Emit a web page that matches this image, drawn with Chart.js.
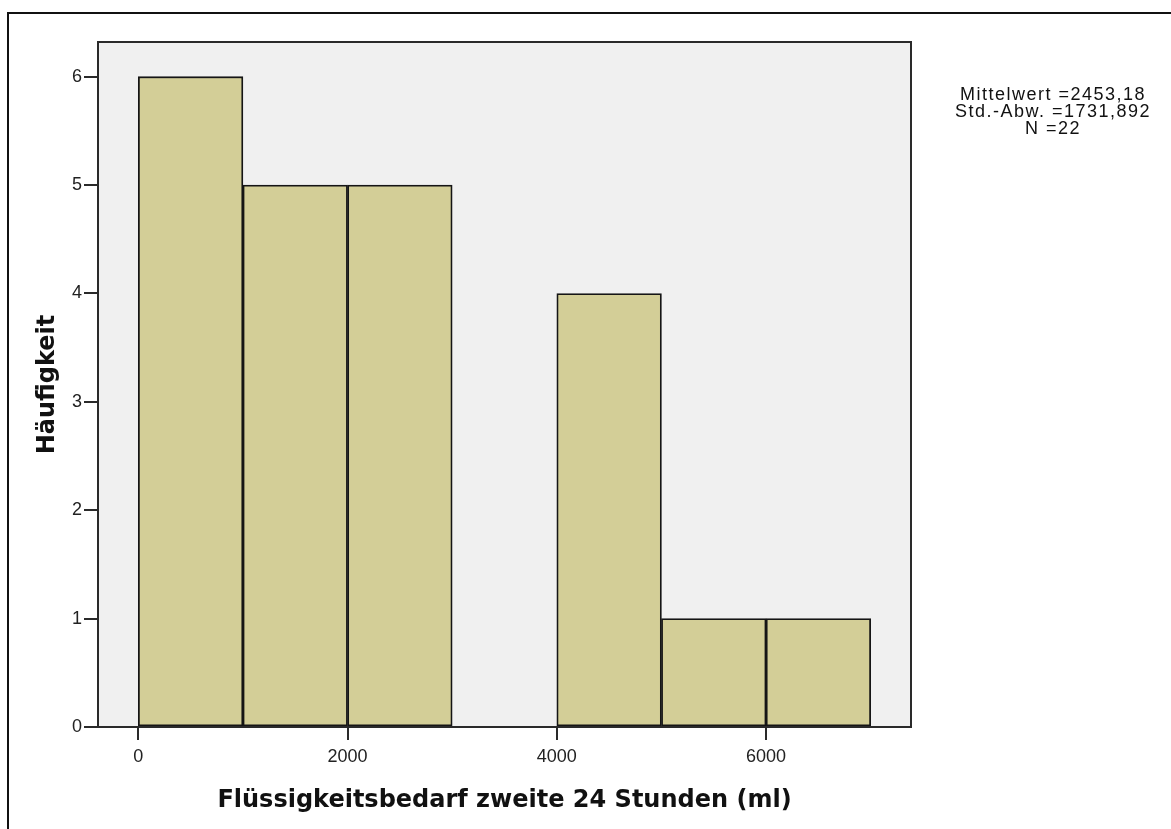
<!DOCTYPE html>
<html>
<head>
<meta charset="utf-8">
<script src="https://cdn.jsdelivr.net/npm/chart.js@4/dist/chart.umd.min.js"></script>
<style>
  html, body { margin: 0; padding: 0; background: #fff; overflow: hidden; }
  #frame { position: absolute; left: 7px; top: 12px; width: 2000px; height: 2000px; border: 2px solid #111; }
  #wrap { position: absolute; left: 0; top: 0; width: 1171px; height: 829px; }
</style>
</head>
<body>
<div id="frame"></div>
<div id="wrap"><canvas id="chart-hist"></canvas></div>
<script>
// Histogramm: Klassen zu je 1000 ml
const binStarts = [0, 1000, 2000, 3000, 4000, 5000, 6000]
const binWidth = 1000
const counts = [6, 5, 5, 0, 4, 1, 1]
const xTickValues = [0, 2000, 4000, 6000]
const yTickValues = [0, 1, 2, 3, 4, 5, 6]
const statLines = ["Mittelwert =2453,18", "Std.-Abw. =1731,892", "N =22"]

const points = binStarts.map((s, i) => ({ x: s + binWidth / 2, y: counts[i] }))

const plotFrame = {
  id: "plotFrame",
  beforeDraw(chart) {
    const { ctx, chartArea: a } = chart
    ctx.save()
    ctx.fillStyle = "#f0f0f0"
    ctx.fillRect(a.left, a.top, a.right - a.left, a.bottom - a.top)
    ctx.restore()
  },
  afterDatasetsDraw(chart) {
    const { ctx, chartArea: a } = chart
    ctx.save()
    ctx.strokeStyle = "#2a2a2a"
    ctx.lineWidth = 2
    ctx.strokeRect(a.left, a.top, a.right - a.left, a.bottom - a.top)
    // Kennwerte rechts oben
    ctx.fillStyle = "#111"
    ctx.font = "18px 'Liberation Sans', Arial, sans-serif"
    ctx.letterSpacing = "1.5px"
    ctx.textAlign = "center"
    ctx.textBaseline = "middle"
    statLines.forEach((t, i) => ctx.fillText(t, 1053, 95 + i * 17))
    ctx.restore()
  }
}

new Chart(document.getElementById("chart-hist"), {
  type: "bar",
  data: {
    datasets: [{
      label: "Häufigkeit",
      data: points,
      backgroundColor: "#d3ce97",
      borderColor: "#151515",
      borderWidth: 1.8,
      borderSkipped: false,
      barPercentage: 1,
      categoryPercentage: 1
    }]
  },
  options: {
    responsive: true,
    maintainAspectRatio: false,
    animation: false,
    layout: { padding: { top: 42, right: 260, bottom: 0, left: 0 } },
    plugins: { legend: { display: false }, tooltip: { enabled: false } },
    scales: {
      x: {
        type: "linear",
        min: -385,
        max: 7385,
        offset: false,
        afterBuildTicks: s => { s.ticks = xTickValues.map(v => ({ value: v })) },
        afterFit: s => { s.height = 102 },
        grid: { offset: false, drawOnChartArea: false, drawTicks: true, tickLength: 13, color: "#2a2a2a", lineWidth: 2 },
        border: { display: false },
        ticks: {
          color: "#222",
          padding: 6,
          font: { family: "'Liberation Sans', Arial, sans-serif", size: 18 },
          maxRotation: 0,
          callback: v => String(v)
        },
        title: {
          display: true,
          text: "Flüssigkeitsbedarf zweite 24 Stunden (ml)",
          color: "#111",
          font: { family: "'DejaVu Sans', sans-serif", size: 24, weight: "bold" },
          padding: { top: 0, bottom: 14 }
        }
      },
      y: {
        min: 0,
        max: 6.32,
        afterBuildTicks: s => { s.ticks = yTickValues.map(v => ({ value: v })) },
        afterFit: s => { s.width = 98 },
        grid: { drawOnChartArea: false, drawTicks: true, tickLength: 14, color: "#2a2a2a", lineWidth: 2 },
        border: { display: false },
        ticks: {
          color: "#222",
          padding: 2,
          font: { family: "'Liberation Sans', Arial, sans-serif", size: 18 },
          callback: v => String(v)
        },
        title: {
          display: true,
          text: "Häufigkeit",
          color: "#111",
          font: { family: "'DejaVu Sans', sans-serif", size: 24, weight: "bold" },
          padding: { top: 33, bottom: 0 }
        }
      }
    }
  },
  plugins: [plotFrame]
})
</script>
</body>
</html>
